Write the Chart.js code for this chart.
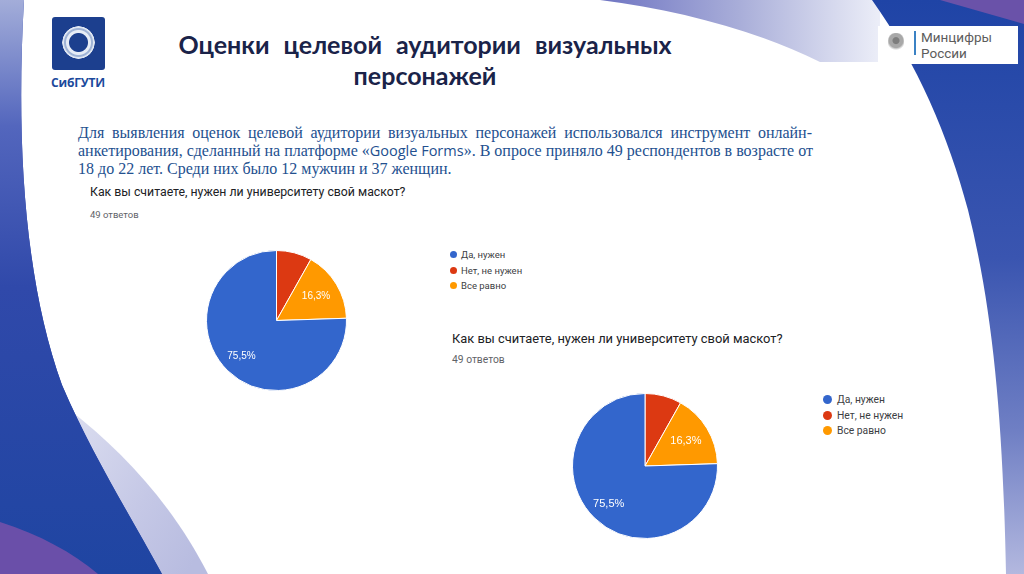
<!DOCTYPE html>
<html lang="ru">
<head>
<meta charset="utf-8">
<script src="https://cdn.jsdelivr.net/npm/chart.js@4.4.1/dist/chart.umd.min.js"></script>
<style>
  html,body{margin:0;padding:0;}
  body{width:1024px;height:574px;position:relative;overflow:hidden;background:#fff;font-family:Roboto,"Liberation Sans",Arial,sans-serif;}
  .abs{position:absolute;}
  #bg{position:absolute;left:0;top:0;}
  .title{position:absolute;left:125px;width:600px;text-align:center;font-family:Lato,"Open Sans",sans-serif;font-weight:700;font-size:25px;line-height:30px;color:#1a2349;white-space:nowrap;}
  .para{position:absolute;left:78px;width:734px;font-family:"Liberation Serif","DejaVu Serif",serif;font-size:16px;line-height:18px;color:#23508f;white-space:nowrap;}
  .j{text-align:justify;text-align-last:justify;}
  .gf{font-family:"Open Sans",sans-serif;font-size:14.5px;}
  .q{position:absolute;color:#202124;white-space:nowrap;font-family:Roboto,sans-serif;}
  .cnt{position:absolute;color:#5f6368;white-space:nowrap;font-family:Roboto,sans-serif;}
  .legend{position:absolute;font-family:Roboto,Arial,sans-serif;color:#3c4043;}
  .legend div{position:relative;white-space:nowrap;}
  .legend span.dot{position:absolute;border-radius:50%;}
  .mc{position:absolute;left:921px;font-family:Roboto,sans-serif;font-size:13.5px;line-height:15px;color:#5c5c5c;white-space:nowrap;}
</style>
</head>
<body>
<svg id="bg" width="1024" height="574" viewBox="0 0 1024 574">
  <defs>
    <linearGradient id="leftBand" x1="0" y1="0" x2="0" y2="574" gradientUnits="userSpaceOnUse">
      <stop offset="0" stop-color="#a3add9"/>
      <stop offset="0.22" stop-color="#5366bd"/>
      <stop offset="0.5" stop-color="#3049aa"/>
      <stop offset="1" stop-color="#1f45a2"/>
    </linearGradient>
    <linearGradient id="lavBand" x1="60" y1="420" x2="220" y2="520" gradientUnits="userSpaceOnUse">
      <stop offset="0" stop-color="#dcdef0"/>
      <stop offset="0.6" stop-color="#c5c8e6"/>
      <stop offset="1" stop-color="#b8bce0"/>
    </linearGradient>
    <linearGradient id="topBand" x1="600" y1="0" x2="880" y2="0" gradientUnits="userSpaceOnUse">
      <stop offset="0" stop-color="#6e74c2"/>
      <stop offset="0.5" stop-color="#a9aed9"/>
      <stop offset="1" stop-color="#eceef8"/>
    </linearGradient>
    <linearGradient id="rightBand" x1="0" y1="0" x2="0" y2="574" gradientUnits="userSpaceOnUse">
      <stop offset="0" stop-color="#1f44a6"/>
      <stop offset="0.45" stop-color="#3a55b0"/>
      <stop offset="0.75" stop-color="#6f7fc4"/>
      <stop offset="1" stop-color="#b3b8df"/>
    </linearGradient>
  </defs>
  <path d="M600,0 C680,10 760,32 820,62 L880,62 L880,0 Z" fill="url(#topBand)"/>
  <path d="M70,410 C120,450 170,500 208,574 L150,574 Z" fill="url(#lavBand)"/>
  <path d="M0,0 L24,0 C16,140 24,280 62,385 C92,455 130,515 162,574 L0,574 Z" fill="#3049aa"/>
  <path d="M0,0 L24,0 C16,140 24,280 62,385 C92,455 130,515 162,574 L0,574 Z" fill="url(#leftBand)"/>
  <path d="M0,522 C40,535 72,552 98,574 L0,574 Z" fill="#6a4fa9"/>
  <path d="M872,0 L1024,0 L1024,574 L1006,574 C1003,420 993,310 968,210 C948,135 918,65 872,0 Z" fill="url(#rightBand)"/>
  <path d="M940,0 L1024,0 L1024,24 Z" fill="#6a52a9"/>
</svg>

<!-- SibGUTI logo -->
<div class="abs" style="left:52px;top:17px;width:53px;height:53px;background:#1c3f8e;border-radius:3px;"></div>
<div class="abs" style="left:62px;top:26px;width:33px;height:33px;border-radius:50%;background:radial-gradient(circle, #1c3f8e 0 9px, #e6ecf6 10px 12px, #9fb3d6 13px 14px, #dfe6f2 15px 16px, transparent 16.5px);"></div>
<div class="abs" style="left:51px;top:74px;font-family:'Open Sans',sans-serif;font-weight:700;font-size:12px;color:#1c4a9c;letter-spacing:-0.2px;">СибГУТИ</div>

<!-- Mintsifry logo -->
<div class="abs" style="left:878px;top:26px;width:140px;height:38px;background:#fff;"></div>
<div class="abs" style="left:888px;top:33px;width:16px;height:19px;border-radius:40% 40% 45% 45%;background:radial-gradient(circle at 50% 40%, #7d7d7d 0 3px, #a8a8a8 4px 7px, #cfcfcf 8px, transparent 9.5px);"></div>
<div class="abs" style="left:914px;top:31px;width:2px;height:24px;background:#3b82c4;"></div>
<div class="mc" style="top:30px;">Минцифры</div>
<div class="mc" style="top:46px;">России</div>

<div class="title" style="top:29px;word-spacing:8px;">Оценки целевой аудитории визуальных</div>
<div class="title" style="top:60px;">персонажей</div>

<div class="para j" style="top:124px;">Для выявления оценок целевой аудитории визуальных персонажей использовался инструмент онлайн-</div>
<div class="para j" style="top:142px;">анкетирования, сделанный на платформе «<span class="gf">Google Forms</span>». В опросе приняло 49 респондентов в возрасте от</div>
<div class="para" style="top:160px;">18 до 22 лет. Среди них было 12 мужчин и 37 женщин.</div>

<div class="q" id="q1" style="left:90px;top:185px;font-size:12.3px;"></div>
<div class="cnt" id="c1" style="left:90px;top:209px;font-size:9.5px;"></div>
<div class="q" id="q2" style="left:452px;top:331px;font-size:12.9px;"></div>
<div class="cnt" id="c2" style="left:452px;top:353px;font-size:10.3px;"></div>

<div class="abs" style="left:206px;top:250px;width:141px;height:141px;"><canvas id="pie1"></canvas></div>
<div class="abs" style="left:572px;top:393px;width:146px;height:146px;"><canvas id="pie2"></canvas></div>

<div class="legend" id="leg1" style="left:448px;top:247px;"></div>
<div class="legend" id="leg2" style="left:821px;top:392px;"></div>

<script>
// ---- data ----
const questionText = 'Как вы считаете, нужен ли университету свой маскот?';
const answersText = '49 ответов';
const categories = ['Да, нужен', 'Нет, не нужен', 'Все равно'];
const counts = [37, 4, 8];
const sliceColors = ['#3366cc', '#dc3912', '#ff9900'];
const drawOrder = [1, 2, 0]; // clockwise from 12 o'clock as in the picture

document.getElementById('q1').textContent = questionText;
document.getElementById('q2').textContent = questionText;
document.getElementById('c1').textContent = answersText;
document.getElementById('c2').textContent = answersText;

function buildLegend(id, fontSize, rowH, dotR, textX) {
  const el = document.getElementById(id);
  categories.forEach((c, i) => {
    const row = document.createElement('div');
    row.style.height = rowH + 'px';
    row.style.lineHeight = rowH + 'px';
    row.style.fontSize = fontSize + 'px';
    row.style.paddingLeft = textX + 'px';
    const d = document.createElement('span');
    d.className = 'dot';
    d.style.width = d.style.height = (dotR * 2) + 'px';
    d.style.left = '2px';
    d.style.top = (rowH / 2 - dotR) + 'px';
    d.style.background = sliceColors[i];
    row.appendChild(d);
    row.appendChild(document.createTextNode(c));
    el.appendChild(row);
  });
}
buildLegend('leg1', 9.5, 15.5, 3.7, 13);
buildLegend('leg2', 10.3, 15.5, 4.5, 16);

const total = counts.reduce((a, b) => a + b, 0);

const pctLabelPlugin = {
  id: 'pctLabels',
  afterDatasetsDraw(chart, args, opts) {
    const ctx = chart.ctx;
    const meta = chart.getDatasetMeta(0);
    const data = chart.data.datasets[0].data;
    ctx.save();
    ctx.fillStyle = '#ffffff';
    ctx.font = opts.fontSize + 'px Arimo, "Liberation Sans", Arial, sans-serif';
    ctx.textAlign = 'center';
    ctx.textBaseline = 'middle';
    meta.data.forEach((arc, i) => {
      const frac = data[i] / total;
      if (frac < 0.1) return;
      const p = arc.getProps(['x', 'y', 'startAngle', 'endAngle', 'outerRadius'], true);
      const mid = (p.startAngle + p.endAngle) / 2;
      const r = p.outerRadius * (frac > 0.5 ? 0.72 : 0.66);
      const txt = (frac * 100).toFixed(1).replace('.', ',') + '%';
      ctx.fillText(txt, p.x + Math.cos(mid) * r, p.y + Math.sin(mid) * r);
    });
    ctx.restore();
  }
};

function makePie(id, fontSize) {
  new Chart(document.getElementById(id), {
    type: 'pie',
    data: {
      labels: drawOrder.map(i => categories[i]),
      datasets: [{
        data: drawOrder.map(i => counts[i]),
        backgroundColor: drawOrder.map(i => sliceColors[i]),
        borderColor: '#ffffff',
        borderWidth: 1
      }]
    },
    options: {
      responsive: true,
      maintainAspectRatio: false,
      animation: false,
      layout: { padding: 0 },
      plugins: {
        legend: { display: false },
        tooltip: { enabled: false },
        pctLabels: { fontSize: fontSize }
      }
    },
    plugins: [pctLabelPlugin]
  });
}
makePie('pie1', 10);
makePie('pie2', 11);
</script>
</body>
</html>
